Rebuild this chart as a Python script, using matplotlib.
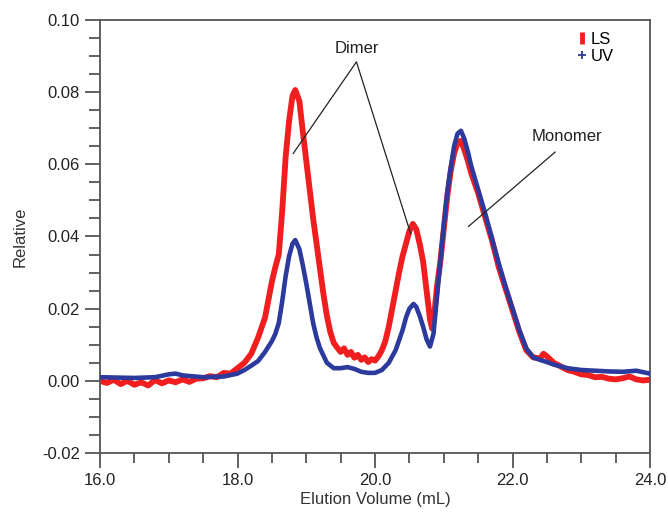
import matplotlib
matplotlib.use("Agg")
import matplotlib.pyplot as plt
from matplotlib.lines import Line2D
from matplotlib.ticker import MultipleLocator

plt.rcParams["font.family"] = ["Liberation Sans", "DejaVu Sans"]

# LS (light scattering) trace
ls_x = [16.0, 16.1, 16.2, 16.3, 16.4, 16.5, 16.6, 16.7, 16.8, 16.9,
        17.0, 17.1, 17.2, 17.3, 17.4, 17.5, 17.6, 17.7, 17.8, 17.9,
        18.0, 18.1, 18.2, 18.3, 18.4, 18.45, 18.5, 18.55, 18.6, 18.65,
        18.7, 18.75, 18.8, 18.84, 18.9, 18.95, 19.0, 19.05, 19.1, 19.15,
        19.2, 19.25, 19.3, 19.35, 19.4, 19.45, 19.5, 19.55, 19.6, 19.65,
        19.7, 19.75, 19.8, 19.85, 19.9, 19.95, 20.0, 20.05, 20.1, 20.15,
        20.2, 20.25, 20.3, 20.35, 20.4, 20.45, 20.5, 20.55, 20.6, 20.65,
        20.7, 20.75, 20.8, 20.83, 20.87, 20.9, 20.95, 21.0, 21.05, 21.1,
        21.15, 21.2, 21.25, 21.3, 21.35, 21.4, 21.5, 21.6, 21.7, 21.8,
        21.9, 22.0, 22.1, 22.2, 22.3, 22.4, 22.45, 22.5, 22.6, 22.7,
        22.8, 22.9, 23.0, 23.1, 23.2, 23.3, 23.4, 23.5, 23.6, 23.7,
        23.8, 23.9, 24.0]
ls_y = [0.0000, -0.0006, 0.0003, -0.0009, 0.0000, -0.0011, -0.0004, -0.0013, 0.0002, -0.0007,
        0.0001, -0.0004, 0.0004, -0.0003, 0.0006, 0.0007, 0.0013, 0.0010, 0.0022, 0.0020,
        0.0035, 0.0050, 0.0075, 0.0120, 0.0175, 0.0225, 0.0275, 0.0315, 0.0350, 0.0470,
        0.0620, 0.0720, 0.0790, 0.0806, 0.0775, 0.0690, 0.0610, 0.0530, 0.0450, 0.0380,
        0.0310, 0.0240, 0.0180, 0.0135, 0.0105, 0.0092, 0.0080, 0.0090, 0.0072, 0.0080,
        0.0064, 0.0072, 0.0058, 0.0065, 0.0052, 0.0060, 0.0056, 0.0068, 0.0085, 0.0110,
        0.0150, 0.0200, 0.0250, 0.0300, 0.0345, 0.0380, 0.0415, 0.0435, 0.0420, 0.0380,
        0.0330, 0.0250, 0.0170, 0.0145, 0.0200, 0.0260, 0.0330, 0.0420, 0.0510, 0.0580,
        0.0630, 0.0660, 0.0665, 0.0640, 0.0610, 0.0575, 0.0520, 0.0455, 0.0390, 0.0315,
        0.0255, 0.0195, 0.0135, 0.0085, 0.0065, 0.0062, 0.0075, 0.0068, 0.0050, 0.0040,
        0.0030, 0.0025, 0.0018, 0.0016, 0.0010, 0.0011, 0.0006, 0.0004, 0.0007, 0.0012,
        0.0004, 0.0001, 0.0003]

# UV trace
uv_x = [16.0, 16.5, 16.8, 17.0, 17.1, 17.2, 17.5, 17.8, 18.0, 18.1,
        18.2, 18.3, 18.4, 18.5, 18.55, 18.6, 18.65, 18.7, 18.75, 18.8,
        18.84, 18.9, 18.95, 19.0, 19.05, 19.1, 19.15, 19.2, 19.3, 19.4,
        19.5, 19.6, 19.7, 19.8, 19.9, 20.0, 20.1, 20.2, 20.3, 20.4,
        20.45, 20.5, 20.56, 20.6, 20.65, 20.7, 20.75, 20.8, 20.85, 20.9,
        20.95, 21.0, 21.05, 21.1, 21.15, 21.2, 21.25, 21.3, 21.35, 21.4,
        21.5, 21.6, 21.7, 21.8, 21.9, 22.0, 22.1, 22.2, 22.3, 22.4,
        22.5, 22.6, 22.7, 22.8, 23.0, 23.2, 23.4, 23.6, 23.8, 24.0]
uv_y = [0.0010, 0.0008, 0.0010, 0.0018, 0.0020, 0.0015, 0.0010, 0.0012, 0.0020, 0.0030,
        0.0042, 0.0055, 0.0080, 0.0110, 0.0130, 0.0160, 0.0220, 0.0290, 0.0345, 0.0380,
        0.0390, 0.0365, 0.0320, 0.0270, 0.0215, 0.0160, 0.0120, 0.0090, 0.0050, 0.0035,
        0.0035, 0.0038, 0.0033, 0.0025, 0.0022, 0.0022, 0.0030, 0.0050, 0.0085, 0.0140,
        0.0175, 0.0200, 0.0213, 0.0205, 0.0180, 0.0150, 0.0115, 0.0095, 0.0130, 0.0230,
        0.0330, 0.0430, 0.0520, 0.0590, 0.0650, 0.0685, 0.0693, 0.0670, 0.0635, 0.0595,
        0.0530, 0.0465, 0.0395, 0.0325, 0.0260, 0.0200, 0.0140, 0.0090, 0.0065, 0.0058,
        0.0052, 0.0045, 0.0040, 0.0035, 0.0030, 0.0028, 0.0026, 0.0025, 0.0028, 0.0020]

RED = "#f01e1e"
BLUE = "#2b3a9c"
AXC = "#555555"

fig = plt.figure(figsize=(6.68, 5.14), dpi=100)
ax = fig.add_axes([0.1497, 0.1187, 0.8234, 0.8424])

ax.plot(ls_x, ls_y, color=RED, lw=4.2, zorder=2)
ax.plot(uv_x, uv_y, color=BLUE, lw=3.3, zorder=3)

ax.set_xlim(16, 24)
ax.set_ylim(-0.02, 0.10)
ax.xaxis.set_major_locator(MultipleLocator(2))
ax.xaxis.set_minor_locator(MultipleLocator(0.5))
ax.yaxis.set_major_locator(MultipleLocator(0.02))
ax.yaxis.set_minor_locator(MultipleLocator(0.005))
ax.xaxis.set_major_formatter(plt.FuncFormatter(lambda v, p: f"{v:.1f}"))
ax.yaxis.set_major_formatter(plt.FuncFormatter(lambda v, p: f"{v:.2f}"))

for s in ax.spines.values():
    s.set_color(AXC)
    s.set_linewidth(1.3)
ax.tick_params(which="major", length=11, width=1.3, color=AXC,
               labelsize=12, labelcolor="#222222", direction="out")
ax.tick_params(which="minor", length=8, width=1.3, color=AXC, direction="out")
ax.tick_params(axis="x", which="minor", length=7)

ax.set_xlabel("Elution Volume (mL)", fontsize=12, color="#333333", labelpad=3)
ax.set_ylabel("Relative", fontsize=12, color="#333333", labelpad=10)

# annotations
ax.text(19.74, 0.0922, "Dimer", fontsize=12, ha="center", va="center", color="#222222")
ax.plot([18.81, 19.73, 20.52], [0.063, 0.0884, 0.0407], color="#222222", lw=0.9, zorder=4)
ax.text(22.79, 0.0678, "Monomer", fontsize=12, ha="center", va="center", color="#222222")
ax.plot([22.62, 21.36], [0.0634, 0.0428], color="#222222", lw=0.9, zorder=4)

handles = [
    Line2D([], [], color=RED, marker="|", markersize=9, markeredgewidth=3.5, linestyle="none"),
    Line2D([], [], color=BLUE, marker="+", markersize=6, markeredgewidth=1.3, linestyle="none"),
]
ax.legend(handles, ["LS", "UV"], loc="upper right", bbox_to_anchor=(0.955, 1.0),
          frameon=False, fontsize=12, handlelength=0.5, handletextpad=0.25,
          labelspacing=0.15, borderpad=0.2)

fig.savefig("out.png", dpi=100)
